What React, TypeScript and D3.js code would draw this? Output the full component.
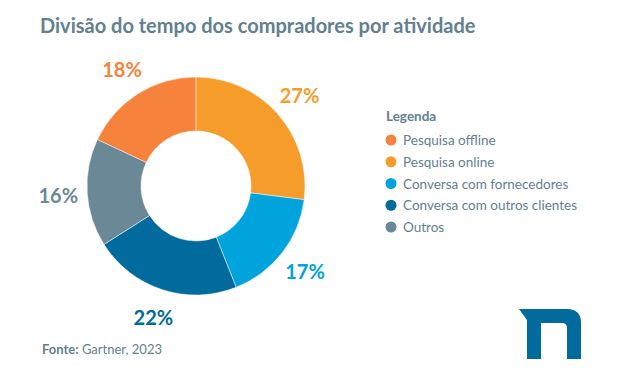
import React from "react";
import * as d3 from "d3";

const categories = [
  "Pesquisa offline",
  "Pesquisa online",
  "Conversa com fornecedores",
  "Conversa com outros clientes",
  "Outros",
];
const values = [18, 27, 17, 22, 16];
const colors = ["#F7823B", "#F59C2A", "#00A3DC", "#006B9C", "#6A8896"];
const title = "Divisão do tempo dos compradores por atividade";
const legendTitle = "Legenda";
const sourceLabel = "Fonte:";
const sourceText = " Gartner, 2023";

const W = 620;
const H = 384;
const FONT = "Lato, 'Noto Sans', sans-serif";
const TEXT = "#62808F";

export default function App() {
  const cx = 196;
  const cy = 186;
  const outerR = 109;
  const innerR = 55;
  const total = d3.sum(values);
  const start = -(values[0] / total) * 2 * Math.PI;
  const pie = d3
    .pie<number>()
    .sort(null)
    .value((d) => d)
    .startAngle(start)
    .endAngle(start + 2 * Math.PI);
  const arcs = pie(values);
  const arc = d3.arc<d3.PieArcDatum<number>>().innerRadius(innerR).outerRadius(outerR);
  const labelArc = d3.arc<d3.PieArcDatum<number>>().innerRadius(138).outerRadius(138);

  const legendY = d3.scalePoint<string>().domain(categories).range([140, 227]);

  return (
    <svg
      width={W}
      height={H}
      style={{ position: "absolute", left: 0, top: 0, background: "#fff" }}
      fontFamily={FONT}
    >
      <rect width={W} height={H} fill="#fff" />
      <text x={40} y={33} fontSize={20} fontWeight={700} fill={TEXT}>
        {title}
      </text>
      <g transform={`translate(${cx},${cy})`}>
        {arcs.map((a, i) => (
          <path key={i} d={arc(a) || ""} fill={colors[i]} stroke="#fff" strokeWidth={0.5} />
        ))}
        {arcs.map((a, i) => {
          const [x, y] = labelArc.centroid(a);
          return (
            <text
              key={"l" + i}
              x={x}
              y={y}
              textAnchor="middle"
              dominantBaseline="central"
              fontSize={20}
              fontWeight={700}
              fill={colors[i]}
            >
              {values[i]}%
            </text>
          );
        })}
      </g>
      <text x={386} y={121} fontSize={13.5} fontWeight={700} fill={TEXT}>
        {legendTitle}
      </text>
      {categories.map((c, i) => (
        <g key={c} transform={`translate(391,${legendY(c)})`}>
          <circle r={5.5} fill={colors[i]} />
          <text x={12} y={0} dominantBaseline="central" fontSize={13.5} fill={TEXT}>
            {c}
          </text>
        </g>
      ))}
      <text x={42} y={354} fontSize={13} fill={TEXT}>
        <tspan fontWeight={700}>{sourceLabel}</tspan>
        <tspan>{sourceText}</tspan>
      </text>
      <path
        d="M519,309 L567,309 Q581,309 581,323 L581,359 L567,359 L567,328 Q567,323 562,323 L541,323 L541,359 L527,359 L527,320 Z"
        fill="#006B9C"
      />
    </svg>
  );
}
